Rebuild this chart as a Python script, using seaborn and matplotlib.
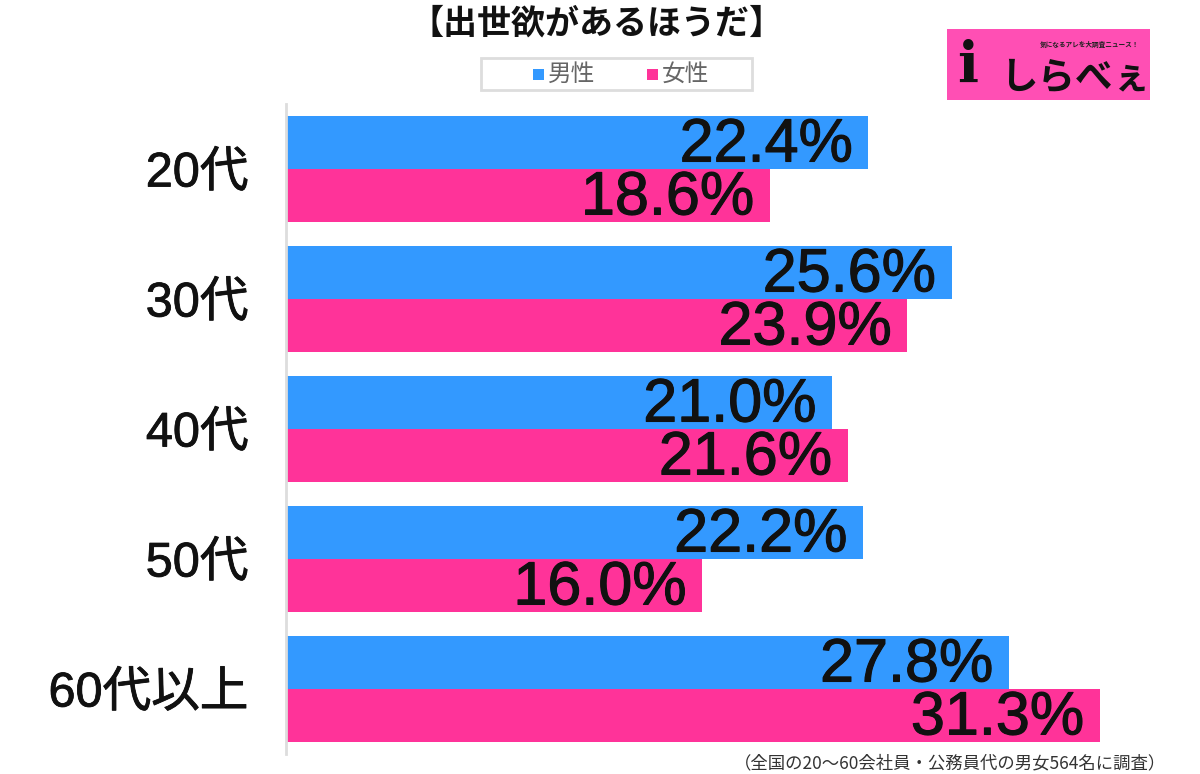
import matplotlib
matplotlib.use("Agg")
import matplotlib.pyplot as plt
import matplotlib.patheffects as pe
import seaborn as sns
import pandas as pd
from matplotlib.patches import Rectangle

categories = ["20代", "30代", "40代", "50代", "60代以上"]
male = [22.4, 25.6, 21.0, 22.2, 27.8]
female = [18.6, 23.9, 21.6, 16.0, 31.3]
series_names = ["男性", "女性"]
colors = ["#3399ff", "#ff3399"]
title = "【出世欲があるほうだ】"
note = "（全国の20～60会社員・公務員代の男女564名に調査）"

df = pd.DataFrame({
    "cat": categories * 2,
    "val": male + female,
    "sex": [series_names[0]] * len(categories) + [series_names[1]] * len(categories),
})

sns.set_theme(style="white")
plt.rcParams['font.family'] = ['Liberation Sans', 'Noto Sans CJK JP', 'DejaVu Sans']

fig = plt.figure(figsize=(12, 7.74), dpi=100)
ax = fig.add_axes([286/1200, 20/774, (1170-286)/1200, (670-20)/774])

sns.barplot(data=df, x="val", y="cat", hue="sex", order=categories,
            hue_order=series_names, palette=colors, orient="h",
            width=0.815, saturation=1, ax=ax, legend=False, edgecolor="none", linewidth=0)

ax.set_xlim(0, 34)
ax.set_ylim(len(categories) - 0.5, -0.5)
ax.set_xlabel("")
ax.set_ylabel("")
ax.set_xticks([])
for s in ["top", "right", "bottom"]:
    ax.spines[s].set_visible(False)
ax.spines["left"].set_color("#dddddd")
ax.spines["left"].set_linewidth(2)
ax.tick_params(axis="y", length=0, pad=27, labelsize=35, labelcolor="#111111")
for lab in ax.get_yticklabels():
    lab.set_path_effects([pe.withStroke(linewidth=0.6, foreground="#111111")])

for cont in ax.containers:
    labels = [f"{v:.1f}%" for v in cont.datavalues]
    txts = ax.bar_label(cont, labels=labels, label_type="edge", padding=-12,
                        fontsize=44, color="#111111")
    for t in txts:
        t.set_ha("right")
        t.set_va("center")
        t.xyann = (-11, -2.5)
        t.set_path_effects([pe.withStroke(linewidth=0.8, foreground="#111111")])

# title
fig.text(596/1200, 1 - 23/774, title, ha="center", va="center", fontsize=24.5,
         fontweight="bold", family=['Noto Sans CJK JP'], color="#111111")

# legend box
fig.patches.append(Rectangle((481/1200, 1 - 90/774), (752-481)/1200, 32/774,
                             transform=fig.transFigure, facecolor="white",
                             edgecolor="#dddddd", linewidth=2))
for i, (name, c) in enumerate(zip(series_names, colors)):
    x0 = [533, 647][i]
    fig.patches.append(Rectangle((x0/1200, 1 - 80/774), 11/1200, 11/774,
                                 transform=fig.transFigure, facecolor=c, edgecolor="none"))
    fig.text((x0 + 15)/1200, 1 - 74/774, name, ha="left", va="center", fontsize=17,
             color="#666666", family=['Noto Sans CJK JP'])

# footnote
fig.text(1166/1200, 1 - 763/774, note, ha="right", va="center", fontsize=12.5,
         color="#333333", family=['Noto Sans CJK JP'])

# logo
fig.patches.append(Rectangle((947/1200, 1 - 100/774), 203/1200, 71/774,
                             transform=fig.transFigure, facecolor="#ff4fb4", edgecolor="none"))
fig.text(1090/1200, 1 - 44/774, "気になるアレを大調査ニュース！", ha="center", va="center",
         fontsize=4.8, color="#222222", family=['Noto Sans CJK JP'], fontweight="bold")
fig.text(1075/1200, 1 - 77/774, "しらべぇ", ha="center", va="center",
         fontsize=27, color="#111111", family=['Noto Sans CJK JP'], fontweight="bold")
fig.text(968/1200, 1 - 66/774, "i", ha="center", va="center",
         fontsize=40, color="#111111", fontweight="bold", family=['DejaVu Serif'])

fig.savefig("out.png", dpi=100, facecolor="white")
